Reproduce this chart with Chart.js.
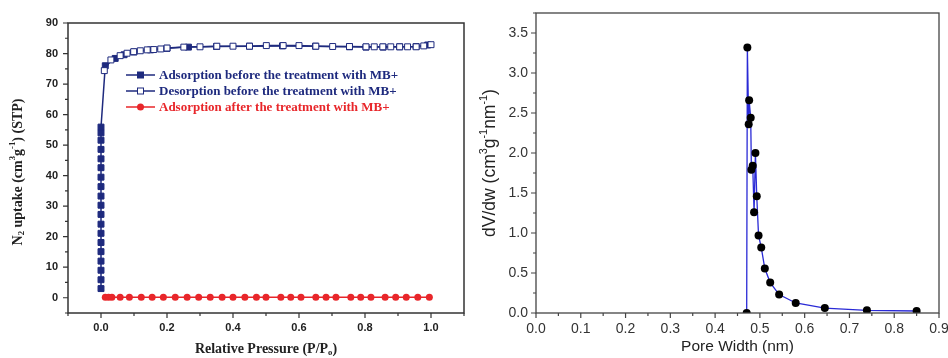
<!DOCTYPE html>
<html>
<head>
<meta charset="utf-8">
<script src="https://cdn.jsdelivr.net/npm/chart.js@4.4.1/dist/chart.umd.min.js"></script>
<style>
  html, body { margin: 0; padding: 0; background: #fff; }
  .panel { position: absolute; top: 0; width: 474px; height: 358px; }
</style>
</head>
<body>
<div class="panel" style="left:0"><canvas id="isotherm" width="474" height="358"></canvas></div>
<div class="panel" style="left:474px"><canvas id="psd" width="474" height="358"></canvas></div>
<script>
// ---- left panel: N2 isotherms ----
const presAdsBefore = [0.0, 0.0, 0.0, 0.0, 0.0, 0.0, 0.0, 0.0, 0.0, 0.0, 0.0, 0.0, 0.0, 0.0, 0.0, 0.0, 0.0, 0.0, 0.0,
  0.013, 0.043, 0.07, 0.1, 0.15, 0.2, 0.265, 0.35, 0.45, 0.55, 0.65, 0.753, 0.803, 0.855, 0.905, 0.955, 0.99];
const uptakeAdsBefore = [3.0, 5.9, 9.0, 12.0, 15.1, 18.1, 21.1, 24.1, 27.3, 30.3, 33.3, 36.4, 39.5, 42.6, 45.5, 48.6, 51.6, 54.0, 55.9,
  76.0, 78.4, 79.6, 80.5, 81.2, 81.7, 82.1, 82.3, 82.4, 82.5, 82.4, 82.2, 82.1, 82.1, 82.2, 82.3, 82.8];

const presDesBefore = [1.0, 0.978, 0.955, 0.929, 0.905, 0.878, 0.854, 0.828, 0.803, 0.753, 0.702, 0.651, 0.6, 0.552, 0.501,
  0.45, 0.40, 0.351, 0.30, 0.251, 0.20, 0.181, 0.160, 0.140, 0.119, 0.099, 0.079, 0.058, 0.030, 0.010];
const uptakeDesBefore = [82.9, 82.5, 82.2, 82.2, 82.2, 82.2, 82.2, 82.2, 82.2, 82.3, 82.3, 82.4, 82.6, 82.6, 82.6,
  82.4, 82.4, 82.4, 82.2, 82.1, 81.8, 81.5, 81.3, 81.2, 80.9, 80.6, 80.1, 79.3, 77.9, 74.4];

const presAdsAfter = [0.013, 0.023, 0.033, 0.058, 0.086, 0.122, 0.155, 0.189, 0.225, 0.261, 0.296, 0.331, 0.367, 0.40, 0.436,
  0.471, 0.50, 0.545, 0.575, 0.606, 0.651, 0.682, 0.712, 0.757, 0.787, 0.818, 0.861, 0.893, 0.925, 0.960, 0.995];
const uptakeAdsAfter = [0.2, 0.2, 0.2, 0.2, 0.2, 0.2, 0.2, 0.2, 0.2, 0.2, 0.2, 0.2, 0.2, 0.2, 0.2,
  0.2, 0.2, 0.2, 0.2, 0.2, 0.2, 0.2, 0.2, 0.2, 0.2, 0.2, 0.2, 0.2, 0.2, 0.2, 0.2];

const seriesNames = [
  'Adsorption before the treatment with MB+',
  'Desorption before the treatment with MB+',
  'Adsorption after the treatment with MB+'
];

// ---- right panel: pore size distribution ----
const poreWidth = [0.4705, 0.472, 0.475, 0.476, 0.4795, 0.481, 0.484, 0.487, 0.490, 0.493, 0.497, 0.503, 0.511,
  0.523, 0.543, 0.580, 0.645, 0.739, 0.850];
const dVdw = [0.0, 3.32, 2.36, 2.66, 2.44, 1.79, 1.84, 1.26, 2.0, 1.46, 0.97, 0.82, 0.555,
  0.38, 0.23, 0.125, 0.062, 0.033, 0.025];

const NAVY = '#1e2a7e';
const RED = '#e8262a';

const zip = (xs, ys) => xs.map((x, i) => ({ x: x, y: ys[i] }));

// draw text with sub/superscripts, centred on (x, y)
function richText(ctx, parts, x, y, size, family, weight, color, rot) {
  ctx.save();
  ctx.translate(x, y);
  ctx.rotate(rot || 0);
  ctx.fillStyle = color;
  ctx.textBaseline = 'middle';
  ctx.textAlign = 'left';
  const fontFor = p => weight + ' ' + (p.sup || p.sub ? size * 0.62 : size) + 'px ' + family;
  let total = 0;
  parts.forEach(p => { ctx.font = fontFor(p); total += ctx.measureText(p.t).width; });
  let cx = -total / 2;
  parts.forEach(p => {
    ctx.font = fontFor(p);
    let dy = p.sup ? -size * 0.36 : (p.sub ? size * 0.3 : 0);
    ctx.fillText(p.t, cx, dy);
    cx += ctx.measureText(p.t).width;
  });
  ctx.restore();
}

// frame + minor/major tick marks
const frameTicks = {
  id: 'frameTicks',
  afterDraw(chart, args, opts) {
    const ctx = chart.ctx;
    const a = chart.chartArea;
    ctx.save();
    ctx.strokeStyle = opts.color;
    ctx.lineWidth = opts.width;
    ctx.strokeRect(a.left, a.top, a.right - a.left, a.bottom - a.top);
    ctx.lineWidth = 1.2;
    ctx.beginPath();
    chart.scales.x.ticks.forEach(t => {
      const px = chart.scales.x.getPixelForValue(t.value);
      const len = t.label !== '' ? 5 : 3;
      ctx.moveTo(px, a.bottom);
      ctx.lineTo(px, a.bottom + len);
    });
    chart.scales.y.ticks.forEach(t => {
      const py = chart.scales.y.getPixelForValue(t.value);
      const len = t.label !== '' ? 5 : 3;
      ctx.moveTo(a.left, py);
      ctx.lineTo(a.left - len, py);
    });
    ctx.stroke();
    ctx.restore();
    if (opts.titles) opts.titles(ctx);
    if (opts.legend) opts.legend(ctx);
  }
};

const fixPad = s => { s.paddingLeft = 0; s.paddingRight = 0; s.paddingTop = 0; s.paddingBottom = 0; };

// ---------- left chart ----------
const serif = '"Liberation Serif", "Times New Roman", serif';
const sans = '"Liberation Sans", Arial, sans-serif';

new Chart(document.getElementById('isotherm'), {
  type: 'scatter',
  data: {
    datasets: [
      {
        label: seriesNames[0],
        data: zip(presAdsBefore, uptakeAdsBefore),
        showLine: true, borderColor: NAVY, borderWidth: 1.5,
        pointStyle: 'rect', pointRadius: 4.2, pointBackgroundColor: NAVY, pointBorderColor: NAVY, pointBorderWidth: 1,
        order: 3
      },
      {
        label: seriesNames[1],
        data: zip(presDesBefore, uptakeDesBefore),
        showLine: true, borderColor: NAVY, borderWidth: 1.5,
        pointStyle: 'rect', pointRadius: 4.2, pointBackgroundColor: '#fff', pointBorderColor: NAVY, pointBorderWidth: 1,
        order: 2
      },
      {
        label: seriesNames[2],
        data: zip(presAdsAfter, uptakeAdsAfter),
        showLine: true, borderColor: RED, borderWidth: 1.5,
        pointStyle: 'circle', pointRadius: 3.5, pointBackgroundColor: RED, pointBorderColor: RED, pointBorderWidth: 0,
        order: 1
      }
    ]
  },
  options: {
    responsive: false,
    animation: false,
    layout: { padding: { left: 0, right: 10, top: 23, bottom: 0 } },
    plugins: {
      legend: { display: false },
      tooltip: { enabled: false },
      frameTicks: {
        color: '#333', width: 1.5,
        titles: ctx => {
          richText(ctx, [{ t: 'Relative Pressure (P/P' }, { t: 'o', sub: true }, { t: ')' }],
            266, 349, 14, serif, 'bold', '#222', 0);
          richText(ctx, [{ t: 'N' }, { t: '2', sub: true }, { t: ' uptake (cm' }, { t: '3', sup: true },
            { t: 'g' }, { t: '-1', sup: true }, { t: ') (STP)' }],
            18, 172, 14, serif, 'bold', '#222', -Math.PI / 2);
        },
        legend: ctx => {
          const rows = [
            { y: 75, color: NAVY, style: 'fill' },
            { y: 91, color: NAVY, style: 'open' },
            { y: 107, color: RED, style: 'dot' }
          ];
          ctx.save();
          rows.forEach((r, i) => {
            ctx.strokeStyle = r.color;
            ctx.lineWidth = 1.5;
            ctx.beginPath();
            ctx.moveTo(126, r.y); ctx.lineTo(155, r.y);
            ctx.stroke();
            ctx.fillStyle = r.style === 'open' ? '#fff' : r.color;
            if (r.style === 'dot') {
              ctx.beginPath(); ctx.arc(140.5, r.y, 3.5, 0, Math.PI * 2); ctx.fill();
            } else {
              ctx.fillRect(137.5, r.y - 3, 6, 6);
              ctx.lineWidth = 1;
              ctx.strokeRect(137.5, r.y - 3, 6, 6);
            }
            ctx.fillStyle = r.color;
            ctx.font = 'bold 13px ' + serif;
            ctx.textBaseline = 'middle';
            ctx.fillText(seriesNames[i], 159, r.y + 1);
          });
          ctx.restore();
        }
      }
    },
    scales: {
      x: {
        type: 'linear', min: -0.1, max: 1.1,
        border: { display: false },
        grid: { drawOnChartArea: false, tickLength: 5, tickColor: 'rgba(0,0,0,0)' },
        ticks: {
          stepSize: 0.1, maxRotation: 0, autoSkip: false, padding: 3,
          color: '#222', font: { family: sans, size: 11, weight: 'bold' },
          callback: v => {
            const k = Math.round(v * 10);
            return (k >= 0 && k <= 10 && k % 2 === 0) ? (k / 10).toFixed(1) : '';
          }
        },
        afterFit: s => { s.height = 45; fixPad(s); }
      },
      y: {
        min: -5, max: 90,
        border: { display: false },
        grid: { drawOnChartArea: false, tickLength: 5, tickColor: 'rgba(0,0,0,0)' },
        ticks: {
          stepSize: 5, autoSkip: false, padding: 5,
          color: '#222', font: { family: sans, size: 11, weight: 'bold' },
          callback: v => (Math.round(v) % 10 === 0 ? String(Math.round(v)) : '')
        },
        afterFit: s => { s.width = 68; fixPad(s); }
      }
    }
  },
  plugins: [frameTicks]
});

// ---------- right chart ----------
new Chart(document.getElementById('psd'), {
  type: 'scatter',
  data: {
    datasets: [{
      label: 'PSD',
      data: zip(poreWidth, dVdw),
      showLine: true, borderColor: '#2a2ad6', borderWidth: 1.3,
      pointStyle: 'circle', pointRadius: 4, pointBackgroundColor: '#000', pointBorderColor: '#000', pointBorderWidth: 0
    }]
  },
  options: {
    responsive: false,
    animation: false,
    layout: { padding: { left: 0, right: 9, top: 13, bottom: 0 } },
    plugins: {
      legend: { display: false },
      tooltip: { enabled: false },
      frameTicks: {
        color: '#444', width: 1.3,
        titles: ctx => {
          richText(ctx, [{ t: 'Pore Width (nm)' }], 263.5, 347, 15.5, sans, 'normal', '#222', 0);
          richText(ctx, [{ t: 'dV/dw (cm' }, { t: '3', sup: true }, { t: 'g' }, { t: '-1', sup: true },
            { t: 'nm' }, { t: '-1', sup: true }, { t: ')' }],
            16, 163, 17.5, sans, 'normal', '#222', -Math.PI / 2);
        }
      }
    },
    scales: {
      x: {
        type: 'linear', min: 0, max: 0.9,
        border: { display: false },
        grid: { drawOnChartArea: false, tickLength: 5, tickColor: 'rgba(0,0,0,0)' },
        ticks: {
          stepSize: 0.05, maxRotation: 0, autoSkip: false, padding: 3,
          color: '#333', font: { family: sans, size: 14 },
          callback: v => {
            const k = Math.round(v * 20);
            return k % 2 === 0 ? (k / 20).toFixed(1) : '';
          }
        },
        afterFit: s => { s.height = 45; fixPad(s); }
      },
      y: {
        min: 0, max: 3.75,
        border: { display: false },
        grid: { drawOnChartArea: false, tickLength: 5, tickColor: 'rgba(0,0,0,0)' },
        ticks: {
          stepSize: 0.25, autoSkip: false, padding: 3,
          color: '#333', font: { family: sans, size: 14 },
          callback: v => {
            const k = Math.round(v * 4);
            return k % 2 === 0 ? (k / 4).toFixed(1) : '';
          }
        },
        afterFit: s => { s.width = 62; fixPad(s); }
      }
    }
  },
  plugins: [frameTicks]
});
</script>
</body>
</html>
